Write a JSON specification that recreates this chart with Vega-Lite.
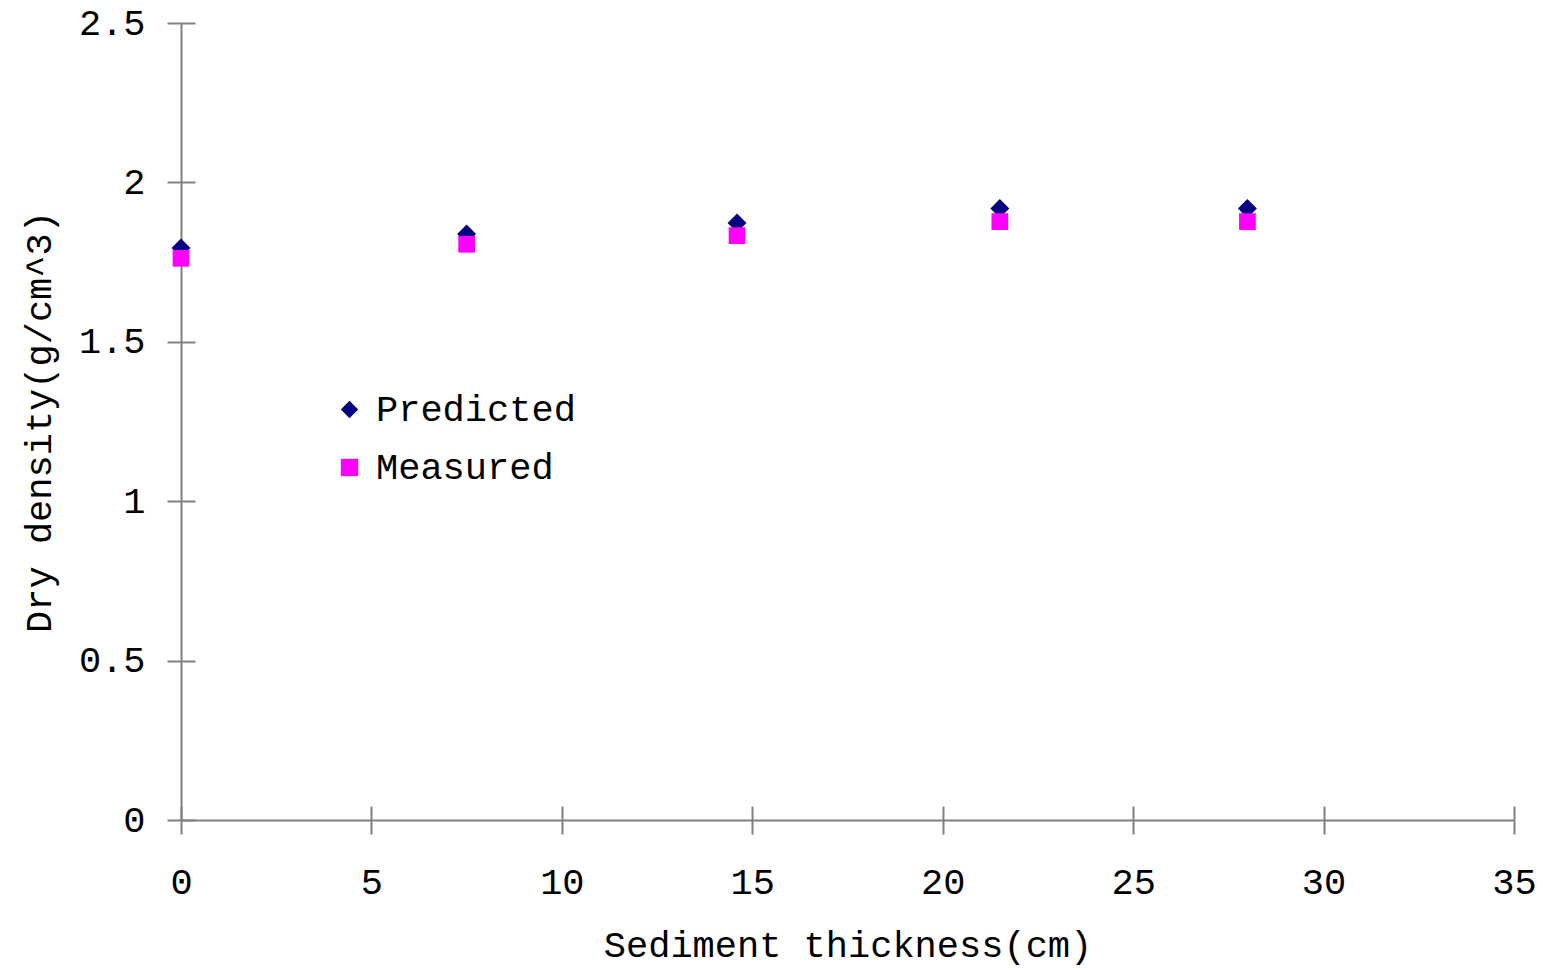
{
  "$schema": "https://vega.github.io/schema/vega-lite/v6.json",
  "autosize": {"type": "none"},
  "width": 1333,
  "height": 797,
  "padding": {"left": 181, "top": 23, "right": 29, "bottom": 150},
  "background": "white",
  "config": {
    "view": {"stroke": null},
    "font": "Liberation Mono",
    "axis": {
      "grid": false,
      "domainColor": "#808080",
      "domainWidth": 2,
      "tickColor": "#808080",
      "tickWidth": 2,
      "labelFont": "Liberation Mono",
      "labelFontSize": 37,
      "labelColor": "black",
      "titleFont": "Liberation Mono",
      "titleFontSize": 37,
      "titleFontWeight": "normal",
      "titleColor": "black"
    }
  },
  "data": {
    "values": [
      {"thickness": 0, "density": 1.794, "series": "Predicted"},
      {"thickness": 7.5, "density": 1.838, "series": "Predicted"},
      {"thickness": 14.6, "density": 1.873, "series": "Predicted"},
      {"thickness": 21.5, "density": 1.918, "series": "Predicted"},
      {"thickness": 28, "density": 1.918, "series": "Predicted"},
      {"thickness": 0, "density": 1.762, "series": "Measured"},
      {"thickness": 7.5, "density": 1.806, "series": "Measured"},
      {"thickness": 14.6, "density": 1.833, "series": "Measured"},
      {"thickness": 21.5, "density": 1.877, "series": "Measured"},
      {"thickness": 28, "density": 1.877, "series": "Measured"}
    ]
  },
  "layer": [
    {
      "transform": [{"filter": "datum.series === 'Predicted'"}],
      "mark": {"type": "point", "filled": true, "opacity": 1, "size": 360},
      "encoding": {
        "x": {
          "field": "thickness", "type": "quantitative",
          "scale": {"domain": [0, 35], "nice": false, "zero": true},
          "axis": {"orient": "bottom", "values": [0, 5, 10, 15, 20, 25, 30, 35], "tickSize": 14, "labelPadding": 30, "labelFlush": false, "title": "Sediment thickness(cm)", "titlePadding": 27}
        },
        "y": {
          "field": "density", "type": "quantitative",
          "scale": {"domain": [0, 2.5], "nice": false},
          "axis": {"orient": "left", "values": [0, 0.5, 1, 1.5, 2, 2.5], "format": "~g", "tickSize": 14, "labelPadding": 22, "labelFlush": false, "title": "Dry density(g/cm^3)", "titlePadding": 20}
        },
        "color": {
          "field": "series", "type": "nominal",
          "scale": {"domain": ["Predicted", "Measured"], "range": ["#000080", "#FF00FF"]},
          "legend": {
            "title": null, "orient": "none", "legendX": 150, "legendY": 368,
            "labelFont": "Liberation Mono", "labelFontSize": 37, "labelColor": "black", "labelLimit": 0,
            "symbolSize": 300, "symbolStrokeWidth": 0, "labelOffset": 8, "rowPadding": 20, "padding": 0
          }
        },
        "shape": {
          "field": "series", "type": "nominal",
          "scale": {"domain": ["Predicted", "Measured"], "range": ["diamond", "square"]},
          "legend": null
        }
      }
    },
    {
      "transform": [{"filter": "datum.series === 'Measured'"}],
      "mark": {"type": "point", "filled": true, "opacity": 1, "size": 280},
      "encoding": {
        "x": {
          "field": "thickness", "type": "quantitative",
          "axis": {"orient": "bottom", "values": [0, 5, 10, 15, 20, 25, 30, 35], "tickSize": -14, "labels": false, "domain": false, "title": null}
        },
        "y": {
          "field": "density", "type": "quantitative",
          "axis": {"orient": "left", "values": [0, 0.5, 1, 1.5, 2, 2.5], "tickSize": -14, "labels": false, "domain": false, "title": null}
        },
        "color": {"field": "series", "type": "nominal"},
        "shape": {"field": "series", "type": "nominal"}
      }
    }
  ],
  "resolve": {"axis": {"x": "independent", "y": "independent"}}
}
